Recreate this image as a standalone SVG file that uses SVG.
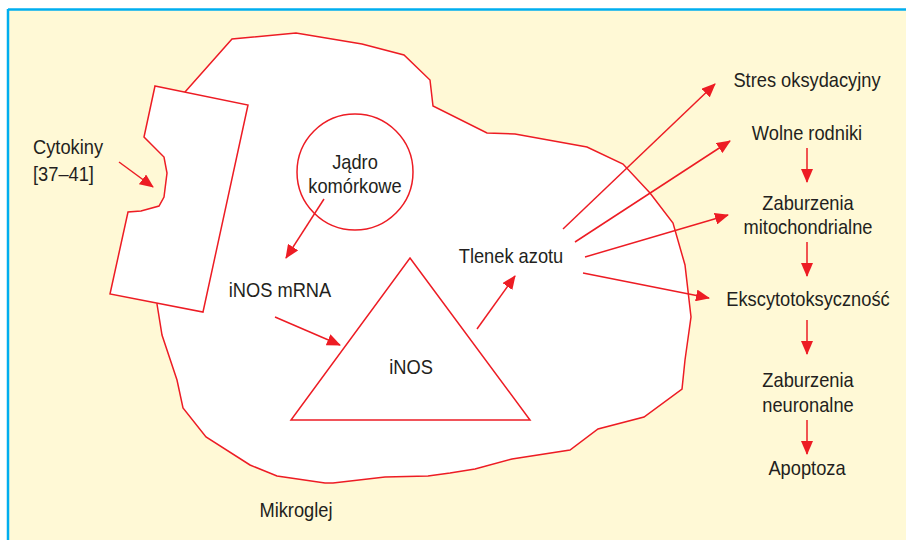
<svg xmlns="http://www.w3.org/2000/svg" width="906" height="540" viewBox="0 0 906 540">
<defs>
<marker id="ah" markerUnits="userSpaceOnUse" markerWidth="14" markerHeight="12" refX="13" refY="6" orient="auto">
<path d="M0,0 L14,6 L0,12 Z" fill="#ED1C24"/>
</marker>
<style>
.t{font-family:"Liberation Sans",Arial,sans-serif;font-size:21px;fill:#231F20;}
.c{text-anchor:middle;}
.shape{fill:#FFFFFF;stroke:#ED1C24;stroke-width:1.5;stroke-linejoin:miter;}
.con{stroke:#ED1C24;stroke-width:1.5;fill:none;marker-end:url(#ah);}
</style>
</defs>
<rect x="0" y="0" width="906" height="540" fill="#FFFFFF"/>
<rect x="8" y="10" width="898" height="530" fill="#FFF9D6"/>
<line x1="8" y1="9.5" x2="906" y2="9.5" stroke="#00AEEF" stroke-width="2.5"/>
<line x1="8" y1="9" x2="8" y2="540" stroke="#00AEEF" stroke-width="2.5"/>

<g id="mikroglej">
<polygon class="shape" points="185,92 232,39 296,33 362,44 404,55 430,80 433,106 487,133 515,134 587,147 623,164 650,193 673,223 685,265 691,317 685,360 682,389 644,417 598,429 570,450 512,459 475,469 450,473 428,476 385,477 333,483 325,483 277,476 250,465 206,437 183,408 177,380 162,335 157,304 200,250"/>
<text class="t c" transform="translate(296,517) scale(0.87,1)">Mikroglej</text>
</g>

<g id="blona">
<polygon class="shape" points="155,86 248,105 203,312 110,294 128,212 141,211 159,206 164,197 167,173 164,157 144,137"/>
</g>

<g id="cytokiny">
<text class="t" transform="translate(33,154) scale(0.87,1)">Cytokiny</text>
<text class="t" transform="translate(33,181) scale(0.87,1)">[37–41]</text>
</g>

<g id="jadro">
<circle class="shape" cx="355" cy="172" r="58"/>
<text class="t c" transform="translate(355,169) scale(0.87,1)">Jądro</text>
<text class="t c" transform="translate(355,193) scale(0.87,1)">komórkowe</text>
</g>

<g id="mrna">
<text class="t c" transform="translate(280,297) scale(0.87,1)">iNOS mRNA</text>
</g>

<g id="inos">
<polygon class="shape" points="410,258 530,420 291,420"/>
<text class="t c" transform="translate(411,374) scale(0.87,1)">iNOS</text>
</g>

<g id="tlenek">
<text class="t c" transform="translate(511,263) scale(0.87,1)">Tlenek azotu</text>
</g>

<g id="stres"><text class="t c" transform="translate(807,87) scale(0.87,1)">Stres oksydacyjny</text></g>
<g id="wolne"><text class="t c" transform="translate(807,140) scale(0.87,1)">Wolne rodniki</text></g>
<g id="mito"><text class="t c" transform="translate(808,210) scale(0.87,1)">Zaburzenia</text><text class="t c" transform="translate(808,234) scale(0.87,1)">mitochondrialne</text></g>
<g id="eksc"><text class="t c" transform="translate(808,306) scale(0.87,1)">Ekscytotoksyczność</text></g>
<g id="neuro"><text class="t c" transform="translate(808,387) scale(0.87,1)">Zaburzenia</text><text class="t c" transform="translate(808,412) scale(0.87,1)">neuronalne</text></g>
<g id="apoptoza"><text class="t c" transform="translate(807,475) scale(0.87,1)">Apoptoza</text></g>

<g id="connectors">
<line class="con" x1="119" y1="162" x2="153" y2="187"/>
<line class="con" x1="324" y1="199" x2="286" y2="258"/>
<line class="con" x1="275" y1="317" x2="340" y2="345"/>
<line class="con" x1="477" y1="329" x2="515" y2="276"/>
<line class="con" x1="563" y1="229" x2="715" y2="84"/>
<line class="con" x1="575" y1="242" x2="730" y2="141"/>
<line class="con" x1="585" y1="257" x2="728" y2="215"/>
<line class="con" x1="583" y1="273" x2="709" y2="298"/>
<line class="con" x1="807" y1="148" x2="807" y2="182"/>
<line class="con" x1="807" y1="242" x2="807" y2="276"/>
<line class="con" x1="807" y1="320" x2="807" y2="354"/>
<line class="con" x1="807" y1="420" x2="807" y2="454"/>
</g>
</svg>
